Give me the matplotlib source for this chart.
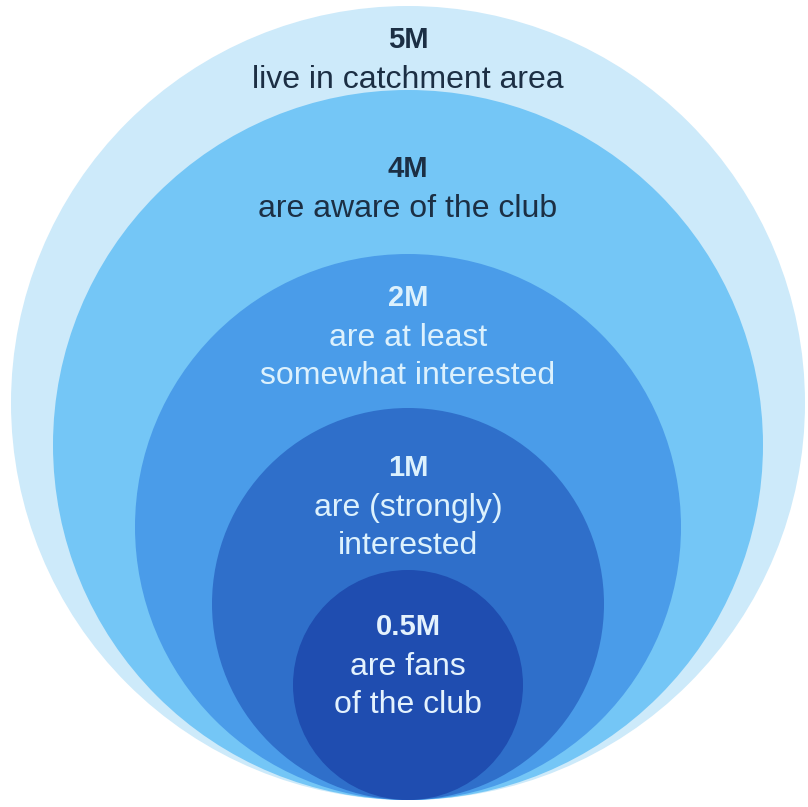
import matplotlib.pyplot as plt
from matplotlib.patches import Circle

# nested audience funnel, largest to smallest
values = ["5M", "4M", "2M", "1M", "0.5M"]
descriptions = [
    "live in catchment area",
    "are aware of the club",
    "are at least\nsomewhat interested",
    "are (strongly)\ninterested",
    "are fans\nof the club",
]

# layout (pixels in an 808 x 807 canvas, y going down)
radii = [397, 355, 273, 196, 115]
bottom_y = 800
center_x = 408
label_y = [40, 169, 298, 468, 627]
colors = ["#cdeafa", "#74c6f6", "#4a9ce9", "#2f6fca", "#1f4db0"]
text_colors = ["#1c2f44", "#1c2f44", "#dcf1fd", "#dcf1fd", "#e4f2fd"]

plt.rcParams['font.family'] = ['Liberation Sans', 'DejaVu Sans']

fig = plt.figure(figsize=(8.08, 8.07), dpi=100)
ax = fig.add_axes([0, 0, 1, 1])
ax.set_xlim(0, 808)
ax.set_ylim(807, 0)
ax.set_aspect('equal')
ax.axis('off')

for r, c in zip(radii, colors):
    ax.add_patch(Circle((center_x, bottom_y - r), r, facecolor=c, edgecolor='none'))

line_h = 38
for val, desc, y, tc in zip(values, descriptions, label_y, text_colors):
    ax.text(center_x, y, val, ha='center', va='center', fontsize=21,
            fontweight='bold', color=tc)
    for i, line in enumerate(desc.split("\n")):
        ax.text(center_x, y + (i + 1) * line_h + 2, line, ha='center', va='center',
                fontsize=23, color=tc)

fig.savefig("out.png", dpi=100, facecolor='white')
